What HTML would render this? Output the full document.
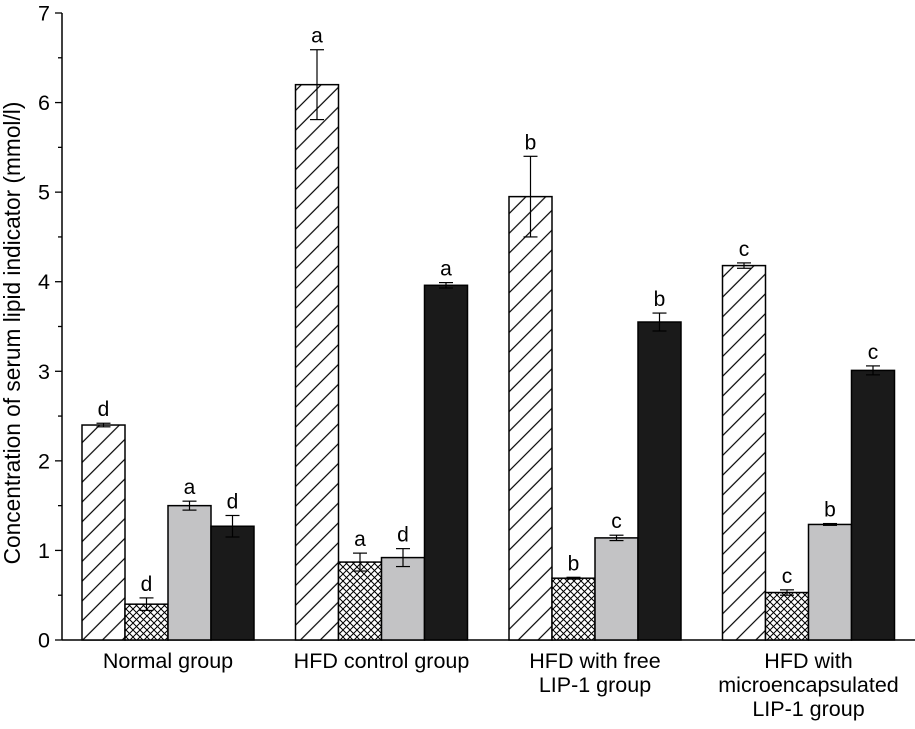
<!DOCTYPE html>
<html><head><meta charset="utf-8"><style>
body{margin:0;background:#fff}
svg text{font-family:"Liberation Sans",Arial,sans-serif;fill:#000}
</style></head><body>
<svg id="chart" width="915" height="724" xmlns="http://www.w3.org/2000/svg">
<defs>
<pattern id="diag" patternUnits="userSpaceOnUse" width="14" height="14" patternTransform="rotate(45)">
<line x1="0" y1="0" x2="0" y2="14" stroke="#000" stroke-width="1.2" transform="translate(7,0)"/>
</pattern>
<pattern id="cross" patternUnits="userSpaceOnUse" width="7" height="7">
<path d="M0,0 L7,7 M7,0 L0,7" stroke="#000" stroke-width="1"/>
</pattern>
</defs>
<g id="axes"></g>
<g id="bars"></g>
<text transform="translate(20,333) rotate(-90)" text-anchor="middle" font-size="22.7">Concentration of serum lipid indicator (mmol/l)</text>
</svg>
<script>
const categories=[["Normal group"],["HFD control group"],["HFD with free","LIP-1 group"],["HFD with","microencapsulated","LIP-1 group"]];
const series1=[2.4,6.2,4.95,4.18];
const series2=[0.4,0.87,0.69,0.53];
const series3=[1.5,0.92,1.14,1.29];
const series4=[1.27,3.96,3.55,3.01];
const err1=[0.02,0.39,0.45,0.03];
const err2=[0.07,0.1,0.01,0.03];
const err3=[0.05,0.1,0.03,0.01];
const err4=[0.12,0.03,0.1,0.05];
const lab1=["d","a","b","c"];
const lab2=["d","a","b","c"];
const lab3=["a","d","c","b"];
const lab4=["d","a","b","c"];
const yTicks=[0,1,2,3,4,5,6,7];

const NS="http://www.w3.org/2000/svg";
const x0=62,y0=640,yTop=13,yMax=7;
const y=v=>y0-(y0-yTop)*v/yMax;
const groupStart=i=>82+i*213.5;
const bw=43;
function mk(t,a,p){const e=document.createElementNS(NS,t);for(const k in a)e.setAttribute(k,a[k]);p.appendChild(e);return e;}
const axes=document.getElementById('axes'),bars=document.getElementById('bars');
let l=mk('line',{x1:x0,y1:yTop,x2:x0,y2:y0,stroke:'#000','stroke-width':1.5},axes);


l=mk('line',{x1:x0,y1:y0,x2:915,y2:y0,stroke:'#000','stroke-width':1.5},axes);


yTicks.forEach(v=>{
  mk('line',{x1:x0-7,y1:y(v),x2:x0,y2:y(v),stroke:'#000','stroke-width':1.3},axes);
  if(v<yMax) mk('line',{x1:x0-4,y1:y(v+0.5),x2:x0,y2:y(v+0.5),stroke:'#000','stroke-width':1.3},axes);
  const t=mk('text',{x:x0-12,y:y(v)+7.5,'text-anchor':'end','font-size':21.5},axes);
  t.textContent=v;
  
  
});
const S=[series1,series2,series3,series4],E=[err1,err2,err3,err4],L=[lab1,lab2,lab3,lab4];
const fills=['url(#diag)','url(#cross)','#c3c3c5','#1a1a1a'];
categories.forEach((c,i)=>{
  const gx=groupStart(i);
  for(let s=0;s<4;s++){
    const v=S[s][i],e=E[s][i],bx=gx+s*bw;
    mk('rect',{x:bx,y:y(v),width:bw,height:y0-y(v),fill:'#fff'},bars);
    const r=mk('rect',{x:bx,y:y(v),width:bw,height:y0-y(v),fill:fills[s],stroke:'#000','stroke-width':1.5},bars);
    
    
    const cx=bx+bw/2;
    mk('line',{x1:cx,y1:y(v+e),x2:cx,y2:y(v-e),stroke:'#000','stroke-width':1.2},bars);
    mk('line',{x1:cx-7,y1:y(v+e),x2:cx+7,y2:y(v+e),stroke:'#000','stroke-width':1.2},bars);
    mk('line',{x1:cx-7,y1:y(v-e),x2:cx+7,y2:y(v-e),stroke:'#000','stroke-width':1.2},bars);
    const t=mk('text',{x:cx,y:y(v+e)-7,'text-anchor':'middle','font-size':21},bars);
    t.textContent=L[s][i];
    
    
  }
  c.forEach((line,k)=>{
    const t=mk('text',{x:gx+2*bw,y:668+k*24,'text-anchor':'middle','font-size':21.5},axes);
    t.textContent=line;
    
    
  });
});
</script>
</body></html>
